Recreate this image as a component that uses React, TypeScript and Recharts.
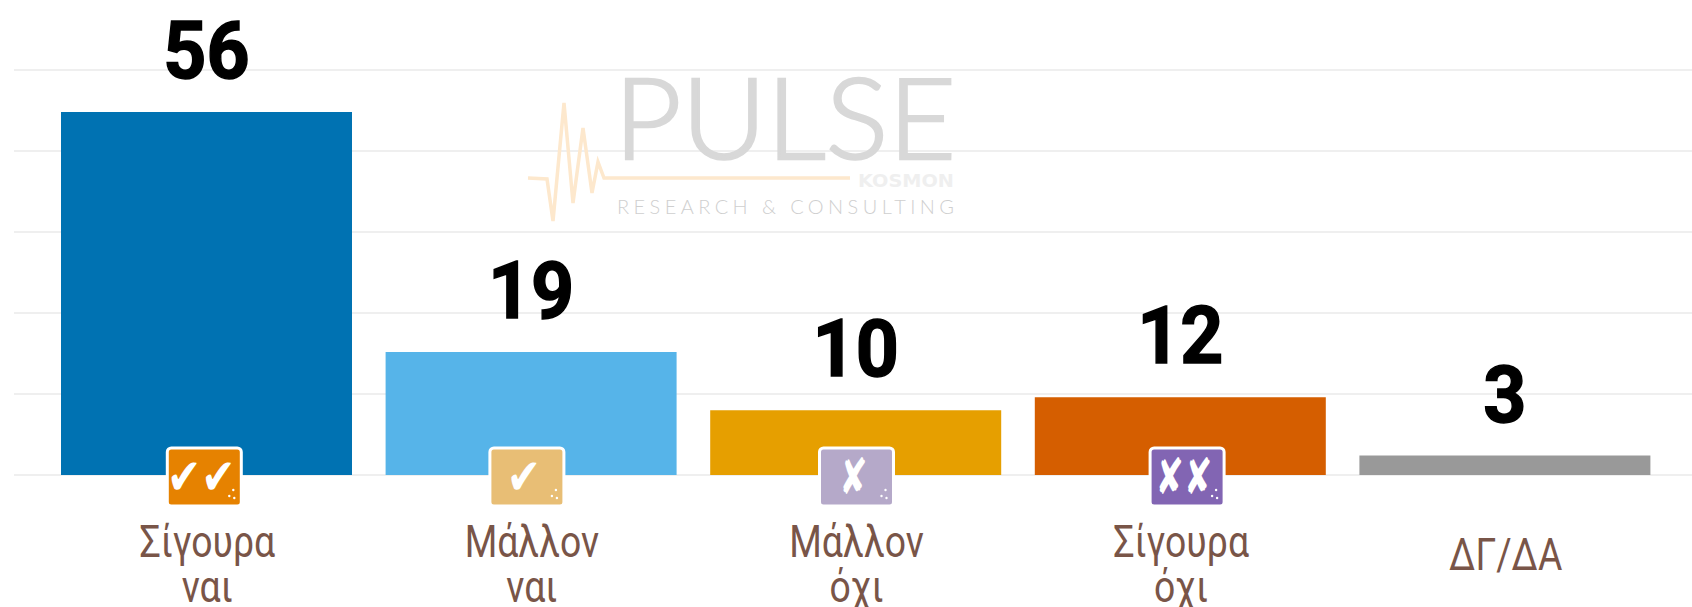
import { Bar, BarChart, CartesianGrid, Cell, LabelList, XAxis, YAxis } from 'recharts';

const categories = ['Σίγουρα ναι', 'Μάλλον ναι', 'Μάλλον όχι', 'Σίγουρα όχι', 'ΔΓ/ΔΑ'];
const percentages = [56, 19, 10, 12, 3];
const yTicks = [0, 12.5, 25, 37.5, 50, 62.5];
const barColors = ['#0072b2', '#56b4e9', '#e69f00', '#d55e00', '#999999'];
const iconColors = ['#e68200', '#e8be75', '#b5a9c9', '#8265b3'];
const iconGlyphs = ['✔✔', '✔', '✘', '✘✘'];
const iconShift = [-2, -4, 1, 7];

const rows = categories.map((name, i) => ({ name, value: percentages[i] }));

function CategoryTick({ x, y, payload, index }: any) {
  const lines = String(payload.value).split(' ');
  const color = iconColors[index];
  const cx = x + (iconShift[index] ?? 0);
  const top = y - 35;
  const squeeze = index === 0 || index === 1 ? 0.82 : 0.68;
  return (
    <g>
      {color && (
        <g>
          <rect x={cx - 37} y={top} width={74} height={58} rx={4} fill={color} stroke="#fff" strokeWidth={3} />
          <text
            transform={`translate(${cx - 3},${top + 46}) scale(${squeeze},1)`}
            textAnchor="middle"
            fontFamily="DejaVu Sans"
            fontSize={50}
            fill="#fff"
          >
            {iconGlyphs[index]}
          </text>
          <circle cx={cx + 29} cy={top + 42} r={1.2} fill="#fff" />
          <circle cx={cx + 25} cy={top + 48} r={1.2} fill="#fff" />
          <circle cx={cx + 30} cy={top + 50} r={1.2} fill="#fff" />
        </g>
      )}
      {lines.map((line, i) => (
        <text
          key={line}
          transform={`translate(${x + 1},${lines.length > 1 ? y + 74 + i * 45 : y + 87}) scale(0.83,1)`}
          textAnchor="middle"
          fontFamily="Roboto"
          fontSize={45}
          fill="#795548"
        >
          {line}
        </text>
      ))}
    </g>
  );
}

function ValueLabel({ x, y, width, value }: any) {
  return (
    <text
      transform={`translate(${x + width / 2},${y - 34}) scale(0.94,1)`}
      textAnchor="middle"
      fontFamily="Roboto"
      fontWeight={700}
      fontSize={80}
      fill="#000"
      stroke="#000"
      strokeWidth={1.5}
    >
      {value}
    </text>
  );
}

function Logo() {
  return (
    <svg width={1692} height={607} style={{ position: 'absolute', left: 0, top: 0, pointerEvents: 'none' }}>
      <polyline
        points="528,178 547,179 553,221 564,103 573,203 583,128 592,193 598,162 604,178 850,178"
        fill="none"
        stroke="#fde8cd"
        strokeWidth={3.5}
      />
      <text
        x={614}
        y={159}
        fontFamily="Lato"
        fontWeight={300}
        fontSize={112}
        fill="#d8d8d8"
        stroke="#d8d8d8"
        strokeWidth={2.5}
        textLength={342}
        lengthAdjust="spacingAndGlyphs"
      >
        PULSE
      </text>
      <text x={858} y={187} fontFamily="DejaVu Sans" fontWeight={700} fontSize={18} fill="#efefef" textLength={96} lengthAdjust="spacingAndGlyphs">
        KOSMON
      </text>
      <text x={617} y={214} fontFamily="Lato" fontWeight={300} fontSize={20} fill="#cfcfcf" textLength={337}>
        RESEARCH &amp; CONSULTING
      </text>
    </svg>
  );
}

export default function App() {
  return (
    <div style={{ position: 'absolute', left: 0, top: 0, width: 1692, height: 607, background: '#fff' }}>
      <BarChart
        width={1692}
        height={607}
        data={rows}
        barCategoryGap={17}
        margin={{ top: 70, right: 0, left: 14, bottom: 0 }}
      >
        <CartesianGrid stroke="#efefef" strokeWidth={2} vertical={false} />
        <YAxis hide domain={[0, 62.5]} ticks={yTicks} />
        <Bar dataKey="value" isAnimationActive={false}>
          {rows.map((row, i) => (
            <Cell key={row.name} fill={barColors[i]} />
          ))}
          <LabelList dataKey="value" content={<ValueLabel />} />
        </Bar>
        <XAxis
          dataKey="name"
          height={132}
          interval={0}
          axisLine={false}
          tickLine={false}
          padding={{ left: 30, right: 25 }}
          tick={<CategoryTick />}
        />
      </BarChart>
      <Logo />
    </div>
  );
}
